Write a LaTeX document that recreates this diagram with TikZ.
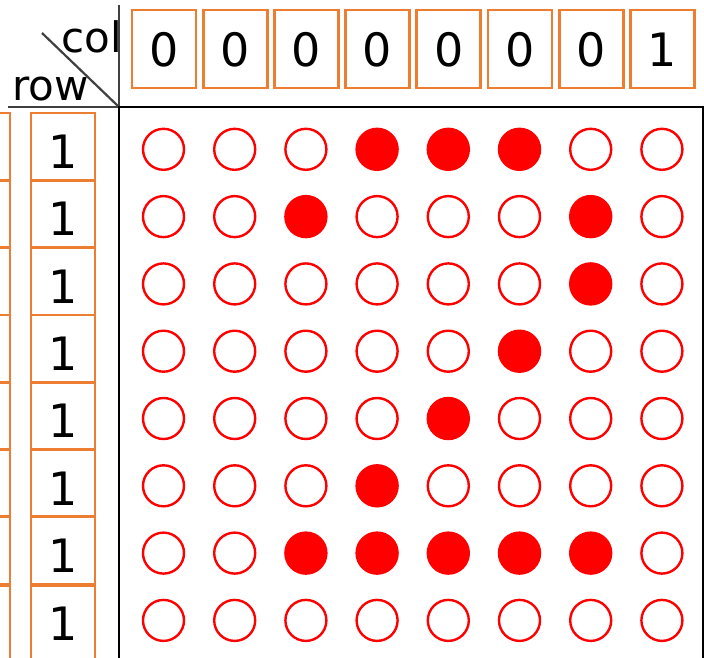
\documentclass[tikz,border=0pt]{standalone}
\usepackage{fontspec}
\setmainfont{DejaVu Sans}
\usetikzlibrary{positioning}
\definecolor{boxorange}{HTML}{ED7D31}
\definecolor{axisgrey}{HTML}{404040}

\begin{document}
\begin{tikzpicture}[x=1pt, y=-1pt,
    cell/.style={draw=boxorange, line width=2.7pt, minimum width=64pt, minimum height=78pt,
      inner sep=0pt, font=\fontsize{46}{46}\selectfont, text height=34pt, text depth=0pt},
    rowcell/.style={cell, minimum height=67.3pt, text height=44pt},
    lastcell/.style={rowcell, minimum height=90pt, text height=21pt, anchor=north},
    led0/.style={circle, draw=red, line width=2.4pt, minimum size=41pt, inner sep=0pt},
    led1/.style={led0, fill=red},
    axis/.style={axisgrey, line width=2.2pt},
    frame/.style={black, line width=2.6pt},
    lbl/.style={font=\fontsize{42}{42}\selectfont, inner sep=0pt}]
  \useasboundingbox (0,0) rectangle (704,657);
  \clip (0,0) rectangle (704,657);
  % column values
  \foreach \v [count=\i] in {0,0,0,0,0,0,0,1}
    \node[cell] (c\i) at ({164+71.2*(\i-1)},49) {\v};
  % row values
  \foreach \i in {1,...,7} {
    \node[rowcell] (r\i) at (63,{146.6+67.3*(\i-1)}) {1};
    \node[rowcell] (l\i) at (-22,{146.6+67.3*(\i-1)}) {};
  }
  \node[lastcell] (r8) at (63,584.05) {1};
  \node[lastcell] (l8) at (-22,584.05) {};
  % header corner
  \coordinate (corner) at (119,107);
  \draw[axis] (119,5) -- (corner);
  \draw[axis] (8,107) -- (corner);
  \draw[axis] (42,33) -- (corner);
  \node[lbl, anchor=base east] (col) at (122,52) {col};
  \node[lbl, anchor=base west] (row) at (12,100) {row};
  \draw[frame] (119,660) -- (corner) -- (703,107) -- (703,660);
  % dot matrix
  \foreach \pat [count=\j] in {{0,0,0,1,1,1,0,0},{0,0,1,0,0,0,1,0},{0,0,0,0,0,0,1,0},
      {0,0,0,0,0,1,0,0},{0,0,0,0,1,0,0,0},{0,0,0,1,0,0,0,0},
      {0,0,1,1,1,1,1,0},{0,0,0,0,0,0,0,0}} {
    \foreach \s [count=\i] in \pat
      \node[led\s] (d\j-\i) at ({163.5+71.2*(\i-1)},{149.3+67.3*(\j-1)}) {};
  }
\end{tikzpicture}
\end{document}
